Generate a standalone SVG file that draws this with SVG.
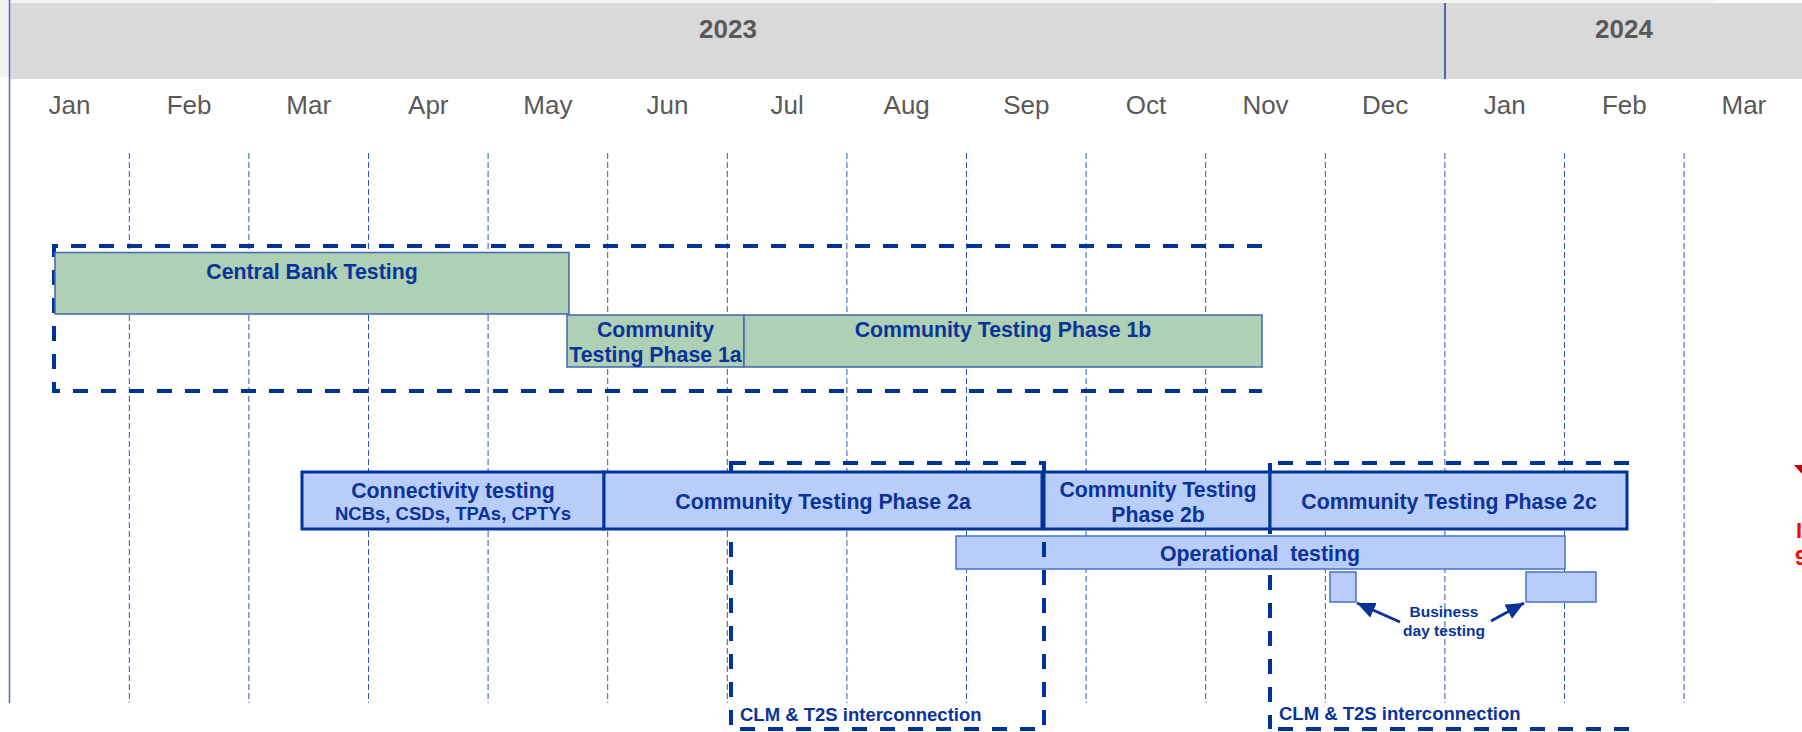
<svg xmlns="http://www.w3.org/2000/svg" width="1802" height="732" viewBox="0 0 1802 732">
  <defs>
    <style>
      .month { font-family: "Liberation Sans", Arial, sans-serif; font-size: 26px; fill: #595959; text-anchor: middle; }
      .year { font-family: "Liberation Sans", Arial, sans-serif; font-size: 26px; font-weight: bold; fill: #595959; text-anchor: middle; }
      .grid { stroke: #2f55b5; stroke-width: 1; stroke-dasharray: 6 3; fill: none; }
      .green { fill: #aed0b4; stroke: #4266b3; stroke-width: 1.5; }
      .blue { fill: #b8cdf9; stroke: #003399; stroke-width: 3; }
      .bluethin { fill: #b8cdf9; stroke: #4a70c8; stroke-width: 1.5; }
      .frame { fill: none; stroke: #003399; stroke-width: 4; stroke-dasharray: 15 13; }
      .lbl { font-family: "Liberation Sans", Arial, sans-serif; font-size: 21.3px; font-weight: bold; fill: #0a3399; text-anchor: middle; }
      .sub { font-family: "Liberation Sans", Arial, sans-serif; font-size: 18.5px; font-weight: bold; fill: #0a3399; text-anchor: middle; }
      .small { font-family: "Liberation Sans", Arial, sans-serif; font-size: 15.5px; font-weight: bold; fill: #0a3399; text-anchor: middle; }
      .clm { font-family: "Liberation Sans", Arial, sans-serif; font-size: 18.5px; font-weight: bold; fill: #0a3399; }
      .red { font-family: "Liberation Sans", Arial, sans-serif; font-size: 22px; font-weight: bold; fill: #ff0000; }
      .arrow { stroke: #0a3399; stroke-width: 3; fill: none; }
    </style>
    <marker id="ah" markerUnits="userSpaceOnUse" markerWidth="20" markerHeight="18" refX="18" refY="8" orient="auto">
      <path d="M0,0 L18,8 L0,16 z" fill="#0a3399"/>
    </marker>
  </defs>

  <rect x="0" y="0" width="1802" height="732" fill="#ffffff"/>

  <g id="header">
    <rect x="0" y="0" width="1716" height="77" fill="#f2f2f2"/>
    <rect x="10" y="3" width="1792" height="76" fill="#d9d9d9"/>
    <line x1="1445" y1="3" x2="1445" y2="79" stroke="#1f3d99" stroke-width="1.5"/>
    <text class="year" x="728" y="38">2023</text>
    <text class="year" x="1624" y="38">2024</text>
    <line x1="9.5" y1="0" x2="9.5" y2="703" stroke="#4472c4" stroke-width="1.5"/>
  </g>

  <g id="months">
    <text class="month" x="69.5" y="114">Jan</text>
    <text class="month" x="189.1" y="114">Feb</text>
    <text class="month" x="308.7" y="114">Mar</text>
    <text class="month" x="428.3" y="114">Apr</text>
    <text class="month" x="547.9" y="114">May</text>
    <text class="month" x="667.5" y="114">Jun</text>
    <text class="month" x="787.1" y="114">Jul</text>
    <text class="month" x="906.7" y="114">Aug</text>
    <text class="month" x="1026.3" y="114">Sep</text>
    <text class="month" x="1145.9" y="114">Oct</text>
    <text class="month" x="1265.5" y="114">Nov</text>
    <text class="month" x="1385.1" y="114">Dec</text>
    <text class="month" x="1504.7" y="114">Jan</text>
    <text class="month" x="1624.3" y="114">Feb</text>
    <text class="month" x="1743.9" y="114">Mar</text>
  </g>

  <g id="gridlines">
    <line class="grid" x1="129.3" y1="153" x2="129.3" y2="703"/>
    <line class="grid" x1="248.9" y1="153" x2="248.9" y2="703"/>
    <line class="grid" x1="368.5" y1="153" x2="368.5" y2="703"/>
    <line class="grid" x1="488.1" y1="153" x2="488.1" y2="703"/>
    <line class="grid" x1="607.7" y1="153" x2="607.7" y2="703"/>
    <line class="grid" x1="727.3" y1="153" x2="727.3" y2="703"/>
    <line class="grid" x1="846.9" y1="153" x2="846.9" y2="703"/>
    <line class="grid" x1="966.5" y1="153" x2="966.5" y2="703"/>
    <line class="grid" x1="1086.1" y1="153" x2="1086.1" y2="703"/>
    <line class="grid" x1="1205.7" y1="153" x2="1205.7" y2="703"/>
    <line class="grid" x1="1325.3" y1="153" x2="1325.3" y2="703"/>
    <line class="grid" x1="1444.9" y1="153" x2="1444.9" y2="703"/>
    <line class="grid" x1="1564.5" y1="153" x2="1564.5" y2="703"/>
    <line class="grid" x1="1684.1" y1="153" x2="1684.1" y2="703"/>
  </g>

  <g id="frame-phase1">
    <path class="frame" d="M1262,246 H54 V391 H1262"/>
  </g>
  <g id="frame-phase2c">
    <path class="frame" d="M1629,463 H1270"/>
    <path class="frame" d="M1270,463 V729"/>
    <path class="frame" d="M1629,729 H1270"/>
    <text class="clm" x="1279" y="720">CLM &amp; T2S interconnection</text>
  </g>

  <g id="central-bank-testing">
    <rect class="green" x="55" y="252.5" width="514" height="61.5"/>
    <text class="lbl" x="312" y="279">Central Bank Testing</text>
  </g>
  <g id="phase-1a">
    <rect class="green" x="567" y="315" width="177" height="52"/>
    <text class="lbl" x="655.5" y="337">Community</text>
    <text class="lbl" x="655.5" y="362">Testing Phase 1a</text>
  </g>
  <g id="phase-1b">
    <rect class="green" x="744" y="315" width="518" height="52"/>
    <text class="lbl" x="1003" y="337">Community Testing Phase 1b</text>
  </g>

  <g id="operational-testing">
    <rect class="bluethin" x="956" y="536" width="609" height="33"/>
    <text class="lbl" x="1260" y="561" xml:space="preserve">Operational  testing</text>
  </g>
  <g id="business-day-1">
    <rect class="bluethin" x="1330" y="572" width="26" height="30"/>
  </g>
  <g id="business-day-2">
    <rect class="bluethin" x="1526" y="572" width="70" height="30"/>
  </g>

  <g id="frame-phase2a">
    <rect class="frame" x="731" y="463" width="313" height="266"/>
    <text class="clm" x="740" y="721">CLM &amp; T2S interconnection</text>
  </g>

  <g id="connectivity-testing">
    <rect class="blue" x="302" y="472" width="302" height="57"/>
    <text class="lbl" x="453" y="498">Connectivity testing</text>
    <text class="sub" x="453" y="520">NCBs, CSDs, TPAs, CPTYs</text>
  </g>
  <g id="phase-2a">
    <rect class="blue" x="604" y="472" width="438" height="57"/>
    <text class="lbl" x="823" y="509">Community Testing Phase 2a</text>
  </g>
  <g id="phase-2b">
    <rect class="blue" x="1044" y="472" width="226" height="57"/>
    <text class="lbl" x="1158" y="497">Community Testing</text>
    <text class="lbl" x="1158" y="522">Phase 2b</text>
  </g>
  <g id="phase-2c">
    <rect class="blue" x="1270" y="472" width="357" height="57"/>
    <text class="lbl" x="1449" y="509">Community Testing Phase 2c</text>
  </g>

  <g id="business-day-label">
    <text class="small" x="1444" y="617">Business</text>
    <text class="small" x="1444" y="636">day testing</text>
  </g>

  <g id="connectors">
    <path class="arrow" d="M1400,622 L1357,603" marker-end="url(#ah)"/>
    <path class="arrow" d="M1491,621 L1524,603" marker-end="url(#ah)"/>
  </g>

  <g id="clipped-edge">
    <polygon points="1794,465 1802,465 1802,474" fill="#c00000"/>
    <text class="red" x="1796" y="538">I</text>
    <text class="red" x="1795" y="565">9</text>
  </g>
</svg>
